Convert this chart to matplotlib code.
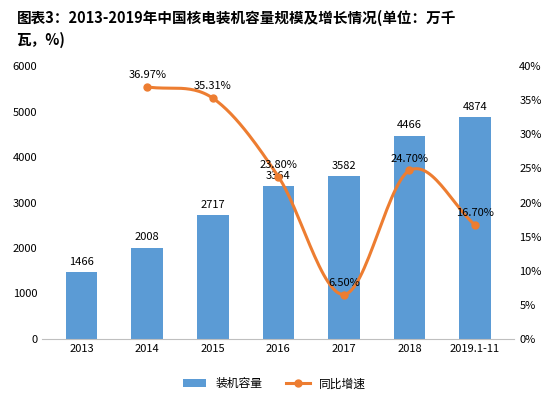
import matplotlib
matplotlib.use("Agg")
import matplotlib.pyplot as plt
import numpy as np
from matplotlib.lines import Line2D

plt.rcParams['font.family'] = ['Noto Sans CJK SC', 'DejaVu Sans']

years = ["2013", "2014", "2015", "2016", "2017", "2018", "2019.1-11"]
capacity = [1466, 2008, 2717, 3364, 3582, 4466, 4874]
growth = [None, 36.97, 35.31, 23.80, 6.50, 24.70, 16.70]

fig = plt.figure(figsize=(5.49, 4.01), dpi=100)
ax = fig.add_axes([0.077, 0.155, 0.86, 0.68])
x = np.arange(len(years))
ax.bar(x, capacity, width=0.48, color='#5B9BD5', label='装机容量', zorder=2)
for xi, v in zip(x, capacity):
    ax.text(xi, v + 120, str(v), ha='center', va='bottom', fontsize=8)
ax.set_ylim(0, 6000)
ax.set_yticks(range(0, 6001, 1000))
ax.set_xlim(-0.6, len(years) - 0.4)
ax.set_xticks(x)
ax.set_xticklabels(years, fontsize=8)
ax.tick_params(axis='y', labelsize=8, length=0)
ax.tick_params(axis='x', length=0)
for s in ['top', 'right', 'left']:
    ax.spines[s].set_visible(False)
ax.spines['bottom'].set_color('#bfbfbf')

ax2 = ax.twinx()
gx = np.array([i for i, g in enumerate(growth) if g is not None], float)
gy = np.array([g for g in growth if g is not None], float)
# Catmull-Rom smoothing for line styling
px = np.concatenate([[2*gx[0]-gx[1]], gx, [2*gx[-1]-gx[-2]]])
py = np.concatenate([[2*gy[0]-gy[1]], gy, [2*gy[-1]-gy[-2]]])
sx, sy = [], []
t = np.linspace(0, 1, 30)
for i in range(1, len(px) - 2):
    for arr, out in ((px, sx), (py, sy)):
        p0, p1, p2, p3 = arr[i-1], arr[i], arr[i+1], arr[i+2]
        out.extend(0.5*((2*p1) + (-p0+p2)*t + (2*p0-5*p1+4*p2-p3)*t**2 + (-p0+3*p1-3*p2+p3)*t**3))
ax2.plot(sx, sy, color='#ED7D31', lw=2.2, zorder=3)
ax2.plot(gx, gy, 'o', color='#ED7D31', ms=5, zorder=4)
for xi, g in zip(gx, gy):
    ax2.text(xi, g + 1.0, f"{g:.2f}%", ha='center', va='bottom', fontsize=8)
ax2.set_ylim(0, 40)
ax2.set_yticks(range(0, 41, 5))
ax2.set_yticklabels([f"{v}%" for v in range(0, 41, 5)], fontsize=8)
ax2.tick_params(axis='y', length=0)
for s in ['top', 'right', 'left', 'bottom']:
    ax2.spines[s].set_visible(False)

fig.text(0.03, 0.975, "图表3：2013-2019年中国核电装机容量规模及增长情况(单位：万千\n瓦，%)",
         ha='left', va='top', fontsize=10.5, fontweight='bold', linespacing=1.4)

h1, l1 = ax.get_legend_handles_labels()
h2 = [Line2D([0], [0], color='#ED7D31', lw=2.2, marker='o', ms=5)]
fig.legend(h1 + h2, l1 + ['同比增速'], loc='lower center', bbox_to_anchor=(0.5, 0.0),
           ncol=2, frameon=False, fontsize=8.5)
fig.savefig("out.png", dpi=100)
